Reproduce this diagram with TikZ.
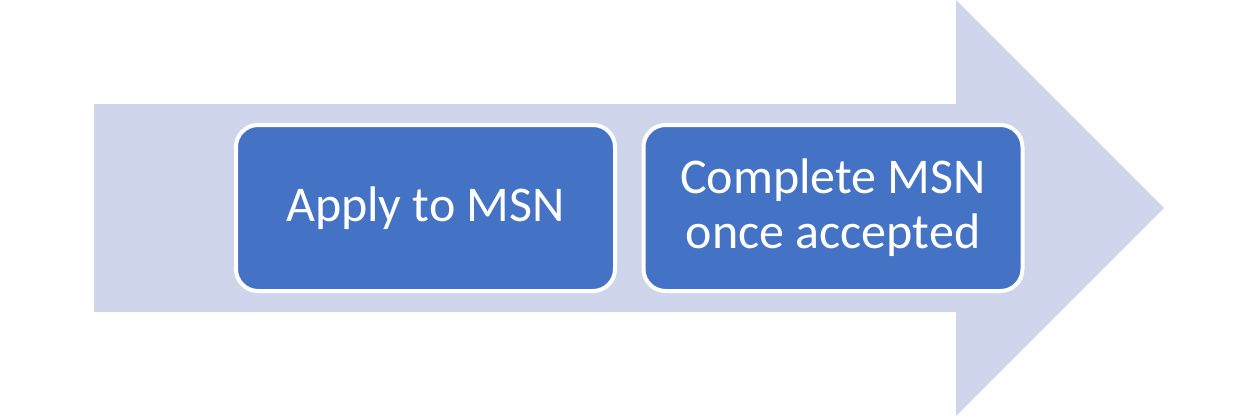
\documentclass[tikz,border=0pt]{standalone}
\usepackage{fontspec}
\setmainfont{Carlito}
\definecolor{arrowfill}{HTML}{CFD5EA}
\definecolor{boxfill}{HTML}{4472C4}
\begin{document}
\begin{tikzpicture}[x=1pt,y=-1pt,
  stepbox/.style={draw=white,line width=4pt,fill=boxfill,rounded corners=22pt,
    minimum width=379pt,minimum height=166pt,text=white,align=center,
    font=\fontsize{50}{55}\selectfont,inner sep=0pt}]
\useasboundingbox (0,0) rectangle (1258,416);
\fill[arrowfill] (94,104) -- (956,104) -- (956,0) -- (1164,208) -- (956,416) -- (956,312) -- (94,312) -- cycle;
\node[stepbox] (a) at (425.5,208) {Apply to MSN};
\node[stepbox] (b) at (833,208) {Complete MSN\\once accepted};
\end{tikzpicture}
\end{document}
